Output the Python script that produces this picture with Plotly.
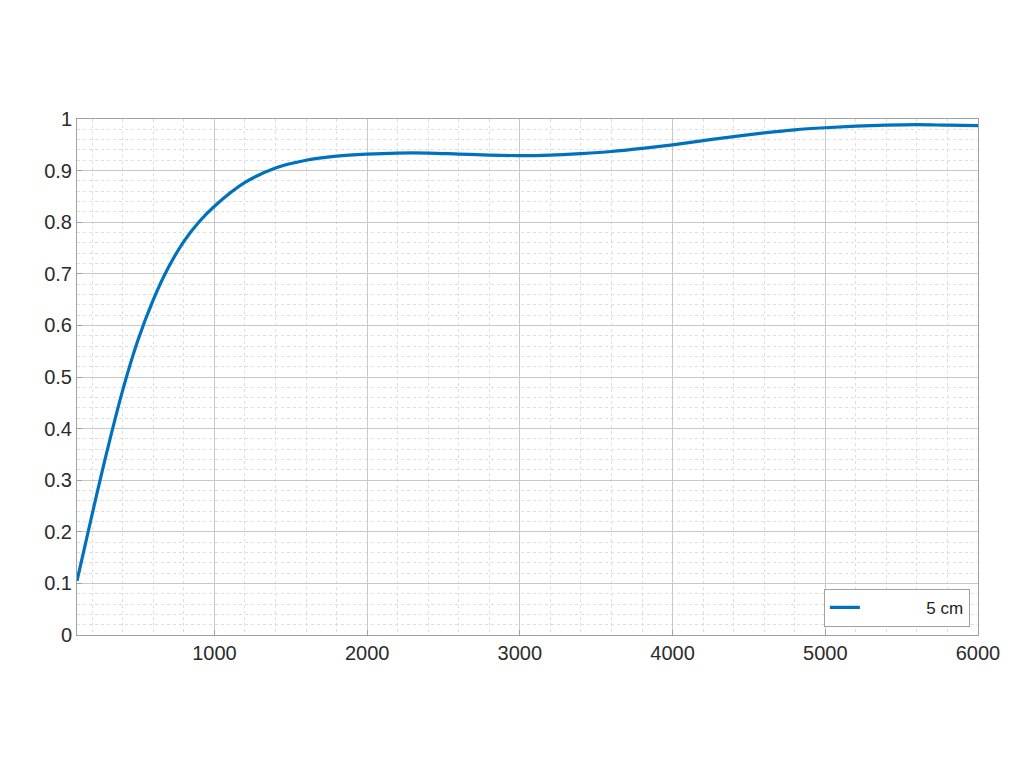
import plotly.graph_objects as go

# frequency (x) and response (y)
freq = [100, 200, 300, 400, 500, 600, 700, 800, 900, 1000,
        1200, 1400, 1600, 1800, 2000, 2200, 2400, 2600, 2800, 3000,
        3200, 3400, 3600, 3800, 4000, 4200, 4400, 4600, 4800, 5000,
        5200, 5400, 5600, 5800, 6000]
resp = [0.105, 0.235, 0.36, 0.475, 0.572, 0.65, 0.713, 0.763, 0.801, 0.831,
        0.877, 0.905, 0.920, 0.928, 0.932, 0.934, 0.934, 0.932, 0.930, 0.929,
        0.930, 0.933, 0.937, 0.943, 0.950, 0.958, 0.966, 0.973, 0.979, 0.983,
        0.986, 0.988, 0.989, 0.988, 0.987]
series_name = "\u00a0" * 13 + "5 cm"

x_ticks = [1000, 2000, 3000, 4000, 5000, 6000]
y_ticks = [0, 0.1, 0.2, 0.3, 0.4, 0.5, 0.6, 0.7, 0.8, 0.9, 1]
y_labels = ["0", "0.1", "0.2", "0.3", "0.4", "0.5", "0.6", "0.7", "0.8", "0.9", "1"]

fig = go.Figure()
fig.add_trace(go.Scatter(x=freq, y=resp, mode="lines", name=series_name,
                         line=dict(color="#0072BD", width=3.2, shape="spline", smoothing=1.0)))

axis_common = dict(
    showline=True, linecolor="#a0a0a0", linewidth=1, mirror=True,
    showgrid=True, gridcolor="#c8c8c8", gridwidth=1,
    ticks="inside", ticklen=5, tickcolor="#a0a0a0",
    zeroline=False,
    tickfont=dict(family="Liberation Sans, Arial, sans-serif", size=20, color="#2b2b2b"),
)

fig.update_xaxes(range=[100, 6000], tickvals=x_ticks,
                 minor=dict(dtick=200, tick0=0, showgrid=True, griddash="dot",
                            gridcolor="#dedede"),
                 **axis_common)
fig.update_yaxes(range=[0, 1], tickvals=y_ticks, ticktext=y_labels,
                 minor=dict(dtick=0.02, tick0=0, showgrid=True, griddash="dot",
                            gridcolor="#dedede"),
                 **axis_common)

# the page body adds an 8px offset, so margins are trimmed by that much
fig.update_layout(
    width=1024, height=768,
    margin=dict(l=69, r=54, t=111, b=141),
    paper_bgcolor="white", plot_bgcolor="white",
    showlegend=True,
    legend=dict(x=0.991, y=0.016, xanchor="right", yanchor="bottom",
                bgcolor="white", bordercolor="#a0a0a0", borderwidth=1,
                font=dict(family="Liberation Sans, Arial, sans-serif", size=17, color="#222222")),
)

fig.write_html("out.html")
